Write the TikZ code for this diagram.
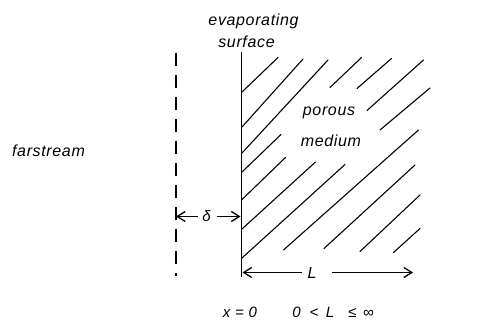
\documentclass[tikz,border=0pt]{standalone}
\usepackage{fontspec}
\setmainfont{Liberation Sans}[LetterSpace=4]
\usetikzlibrary{arrows.meta}
\tikzset{
  lbl/.style={font=\fontsize{16}{18}\selectfont\itshape, inner sep=0pt, anchor=base},
  sml/.style={font=\fontsize{15}{17}\selectfont\itshape, inner sep=0pt, anchor=base},
  hatch/.style={line width=1.1pt, line cap=round},
  wall/.style={line width=1.8pt},
  dimarrow/.style={line width=1.2pt, -{Straight Barb[length=8pt,width=10pt,line width=1.3pt]}},
  bound/.style={line width=1.2pt, dash pattern=on 13pt off 9pt}
}
\begin{document}
\begin{tikzpicture}[x=1pt,y=-1pt]
\useasboundingbox (0,0) rectangle (501,320);
% labels
\node[lbl] (evap) at (253.5,26) {evaporating};
\node[lbl] (surf) at (246.5,47.5) {surface};
\node[lbl] (por) at (329,116) {porous};
\node[lbl] (med) at (331,146.5) {medium};
\node[lbl] (far) at (48.5,157) {farstream};
% wall and boundary
\coordinate (wt) at (241.5,52);
\coordinate (wb) at (241.5,277);
\draw[wall] (wt) -- (wb);
\coordinate (dt) at (176,53);
\coordinate (db) at (176,276);
\draw[bound] (dt) -- (db);
% hatching
\draw[hatch] (242,92) -- (278,57.5);
\draw[hatch] (242,127) -- (303,59);
\draw[hatch] (242,153) -- (328,60);
\draw[hatch] (330,87.5) -- (361.5,57.5);
\draw[hatch] (357,88.5) -- (391.5,58.5);
\draw[hatch] (367,110.5) -- (423.5,60);
\draw[hatch] (380,130) -- (430,88);
\draw[hatch] (242,172) -- (281,134.5);
\draw[hatch] (242,199.5) -- (285.5,157.5);
\draw[hatch] (242,229) -- (315.5,162);
\draw[hatch] (242,258) -- (345,164.5);
\draw[hatch] (283.5,250) -- (418.5,130);
\draw[hatch] (324,248.5) -- (415,165);
\draw[hatch] (360,251.5) -- (420,195);
\draw[hatch] (393.5,252.5) -- (420,228.5);
% delta dimension
\node[inner sep=0pt, font=\fontsize{15}{17}\selectfont\itshape] (delta) at (206.5,216.5) {δ};
\coordinate (dl) at (176,216.5);
\coordinate (dr) at (240.5,216.5);
\coordinate (dlt) at (198,216.5);
\coordinate (drt) at (217,216.5);
\draw[dimarrow] (dlt) -- (dl);
\draw[dimarrow] (drt) -- (dr);
% L dimension
\node[lbl] (Lab) at (312,278.5) {L};
\coordinate (ll) at (242.5,272.5);
\coordinate (llt) at (301.5,272.5);
\coordinate (lr) at (413,272.5);
\coordinate (lrt) at (331.5,272.5);
\draw[dimarrow] (llt) -- (ll);
\draw[dimarrow] (lrt) -- (lr);
% bottom text
\node[sml] (x0) at (240,318) {x = 0};
\node[sml] (z0) at (296.5,318) {0};
\node[sml] (lt) at (314,318) {<};
\node[sml] (Lb) at (330,318) {L};
\node[sml] (le) at (352.5,318) {≤};
\node[sml] (inf) at (368.5,318) {∞};
\end{tikzpicture}
\end{document}
